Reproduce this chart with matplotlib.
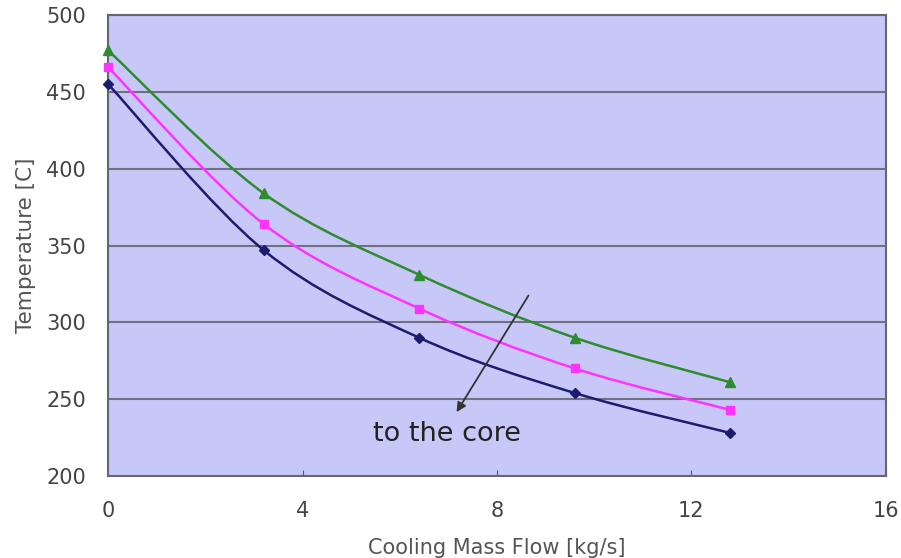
import numpy as np
import matplotlib
matplotlib.use("Agg")
import matplotlib.pyplot as plt
from matplotlib.path import Path
from matplotlib.patches import PathPatch

# cooling mass flow [kg/s]
flow = [0.0, 3.2, 6.4, 9.6, 12.8]
# temperatures [C], outer -> core
temp_outer = [477, 384, 331, 290, 261]
temp_mid = [466, 364, 309, 270, 243]
temp_core = [455, 347, 290, 254, 228]

xticks = [0, 4, 8, 12, 16]
yticks = [200, 250, 300, 350, 400, 450, 500]

plt.rcParams['font.family'] = ['DejaVu Sans']


def smooth_path(x, y):
    # Excel-style smoothed line: cubic bezier through the points
    p = np.column_stack([x, y]).astype(float)
    n = len(p)
    verts = [p[0]]
    codes = [Path.MOVETO]
    for i in range(n - 1):
        p0 = p[i - 1] if i > 0 else p[i]
        p3 = p[i + 2] if i + 2 < n else p[i + 1]
        c1 = p[i] + (p[i + 1] - p0) / 6.0
        c2 = p[i + 1] - (p3 - p[i]) / 6.0
        verts += [c1, c2, p[i + 1]]
        codes += [Path.CURVE4] * 3
    return Path(verts, codes)


fig = plt.figure(figsize=(9.01, 5.58), dpi=100)
ax = fig.add_axes([0.12, 0.147, 0.863, 0.826])
ax.set_facecolor('#c8c8f8')

series = [(temp_outer, '#2e8b2e', '^', 7),
          (temp_mid, '#ff33ff', 's', 6),
          (temp_core, '#1c1c6e', 'D', 5)]
for vals, col, mk, ms in series:
    ax.add_patch(PathPatch(smooth_path(flow, vals), facecolor='none',
                           edgecolor=col, lw=1.8, zorder=3))
    ax.plot(flow, vals, ls='none', color=col, marker=mk, ms=ms,
            zorder=4, clip_on=False)

ax.set_xlim(0, 16)
ax.set_ylim(200, 500)
ax.set_xticks(xticks)
ax.set_yticks(yticks)
ax.yaxis.grid(True, color='#707080', lw=1.5)
ax.set_axisbelow(True)

ax.tick_params(axis='x', direction='in', length=4, color='#555555',
               labelsize=15, labelcolor='#444444', pad=18)
ax.tick_params(axis='y', length=0, labelsize=15, labelcolor='#444444', pad=16)
for s in ax.spines.values():
    s.set_color('#666677')
    s.set_linewidth(1.5)

ax.set_xlabel('Cooling Mass Flow [kg/s]', fontsize=15, color='#555555',
              labelpad=12)
ax.set_ylabel('Temperature [C]', fontsize=15.5, color='#555555', labelpad=7)

ax.annotate('', xy=(7.14, 240), xytext=(8.68, 319),
            arrowprops=dict(arrowstyle='-|>', color='#333333', lw=1.3,
                            mutation_scale=14))
ax.text(5.45, 227, 'to the core', fontsize=19.5, color='#222222', va='center')

fig.savefig('out.png', dpi=100)
